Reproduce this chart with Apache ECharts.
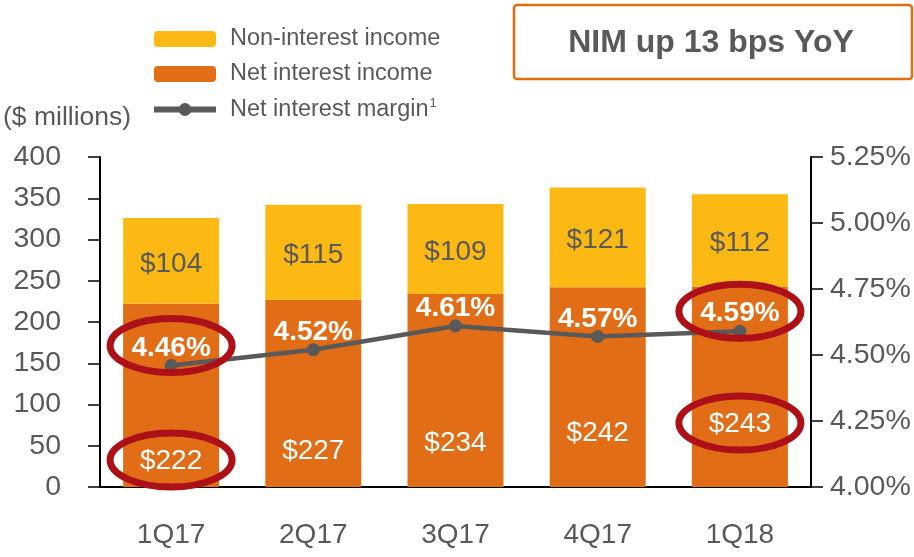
<!DOCTYPE html>
<html><head><meta charset="utf-8">
<script src="https://cdn.jsdelivr.net/npm/echarts@6/dist/echarts.min.js"></script>
<style>html,body{margin:0;padding:0;background:#fff}#c{width:914px;height:557px}</style>
</head><body><div id="c"></div>
<script>
// ---- data ----
const categories = ['1Q17', '2Q17', '3Q17', '4Q17', '1Q18'];
const netInterestIncome = [222, 227, 234, 242, 243];
const nonInterestIncome = [104, 115, 109, 121, 112];
const totalRevenue = [326, 342, 343, 363, 355];
const netInterestMargin = [4.46, 4.52, 4.61, 4.57, 4.59];
const leftAxisTicks = [0, 50, 100, 150, 200, 250, 300, 350, 400];
const rightAxisTicks = [4.00, 4.25, 4.50, 4.75, 5.00, 5.25];
const highlightedIdx = [0, 4];
const titleText = 'NIM up 13 bps YoY';
const unitText = '($ millions)';

// ---- styles ----
const niiLabelLift = [12, 22, 30, 40, 49];
const FONT = "'Liberation Sans', Arial, Helvetica, sans-serif";
const GRAY = '#595959';
const YELLOW = '#FDB913';
const ORANGE = '#E16D16';
const RED = '#AD1016';

const chart = echarts.init(document.getElementById('c'), null, { renderer: 'canvas' });

const option = {
  animation: false,
  textStyle: { fontFamily: FONT },
  grid: { left: 100, right: 103, top: 157, bottom: 70 },
  legend: {
    orient: 'vertical', left: 146, top: 22, itemWidth: 62, itemHeight: 16, itemGap: 11,
    selectedMode: false,
    data: [
      { name: 'Non-interest income' },
      { name: 'Net interest income' },
      { name: 'Net interest margin', lineStyle: { width: 6, color: GRAY }, itemStyle: { color: GRAY } }
    ],
    formatter: n => n === 'Net interest margin' ? n + '{sup|1}' : n,
    textStyle: {
      fontSize: 23.5, color: GRAY, fontFamily: FONT, padding: [0, 0, 0, 9],
      rich: { sup: { fontSize: 13, color: GRAY, fontFamily: FONT, verticalAlign: 'top', padding: [0, 0, 12, 1] } }
    }
  },
  xAxis: {
    type: 'category', data: categories,
    axisLine: { lineStyle: { color: '#000', width: 2 } },
    axisTick: { alignWithLabel: true, length: 12, lineStyle: { color: '#000', width: 1.5 } },
    axisLabel: { fontSize: 28, color: GRAY, margin: 34, fontFamily: FONT }
  },
  yAxis: [
    {
      type: 'value', position: 'left',
      min: leftAxisTicks[0], max: leftAxisTicks[leftAxisTicks.length - 1], interval: leftAxisTicks[1] - leftAxisTicks[0],
      axisLine: { show: true, lineStyle: { color: '#000', width: 2 } },
      axisTick: { show: true, length: 12, lineStyle: { color: '#000', width: 1.5 } },
      axisLabel: { fontSize: 28.5, color: GRAY, margin: 39, fontFamily: FONT },
      splitLine: { show: false }
    },
    {
      type: 'value', position: 'right',
      min: rightAxisTicks[0], max: rightAxisTicks[rightAxisTicks.length - 1], interval: 0.25,
      axisLine: { show: true, lineStyle: { color: '#000', width: 2 } },
      axisTick: { show: true, length: 12, lineStyle: { color: '#000', width: 1.5 } },
      axisLabel: { fontSize: 28.5, color: GRAY, margin: 19, fontFamily: FONT, formatter: v => v.toFixed(2) + '%' },
      splitLine: { show: false }
    }
  ],
  series: [
    {
      name: 'Net interest income', type: 'bar', stack: 'rev', barWidth: 96,
      itemStyle: { color: ORANGE },
      data: netInterestIncome.map((v, i) => ({ value: v, label: { distance: niiLabelLift[i] } })),
      label: { show: true, position: 'insideBottom', color: '#fff', fontSize: 28, fontFamily: FONT, formatter: p => '$' + p.value }
    },
    {
      name: 'Non-interest income', type: 'bar', stack: 'rev', barWidth: 96,
      itemStyle: { color: YELLOW },
      data: nonInterestIncome,
      label: { show: true, position: 'inside', offset: [0, 3], color: GRAY, fontSize: 28, fontFamily: FONT, formatter: p => '$' + p.value }
    },
    {
      name: 'Total', type: 'line', data: totalRevenue, yAxisIndex: 0,
      symbol: 'none', lineStyle: { opacity: 0 }, silent: true, z: 5,
      label: { show: true, position: 'top', distance: 4, color: GRAY, fontSize: 28, fontWeight: 'bold', fontFamily: FONT, formatter: p => '$' + p.value }
    },
    {
      name: 'Net interest margin', type: 'line', data: netInterestMargin, yAxisIndex: 1,
      symbol: 'circle', symbolSize: 13, z: 6,
      lineStyle: { color: GRAY, width: 4.5 }, itemStyle: { color: GRAY },
      label: { show: true, position: 'top', distance: 0, offset: [0, 3], color: '#fff', fontSize: 28, fontWeight: 'bold', fontFamily: FONT, formatter: p => p.value.toFixed(2) + '%' }
    }
  ]
};
chart.setOption(option);

const graphics = [
  { type: 'rect', shape: { x: 514, y: 5, width: 398, height: 74, r: 3 }, style: { fill: '#fff', stroke: '#E46C0A', lineWidth: 2.5 } },
  { type: 'text', x: 711, y: 43, style: { text: titleText, fill: GRAY, font: 'bold 32px ' + FONT, textAlign: 'center', textVerticalAlign: 'middle' } },
  { type: 'text', x: 3, y: 118, style: { text: unitText, fill: GRAY, font: '26.5px ' + FONT, textAlign: 'left', textVerticalAlign: 'middle' } }
];
highlightedIdx.forEach(i => {
  const p = chart.convertToPixel({ xAxisIndex: 0, yAxisIndex: 1 }, [i, netInterestMargin[i]]);
  const b = chart.convertToPixel({ xAxisIndex: 0, yAxisIndex: 0 }, [i, 0]);
  graphics.push({ type: 'ellipse', z: 100, shape: { cx: p[0], cy: p[1] - 20, rx: 61, ry: 27 }, style: { fill: 'none', stroke: RED, lineWidth: 7 } });
  graphics.push({ type: 'ellipse', z: 100, shape: { cx: b[0], cy: b[1] - niiLabelLift[i] - 15, rx: 61, ry: 27 }, style: { fill: 'none', stroke: RED, lineWidth: 7 } });
});
chart.setOption({ graphic: graphics });
</script>
</body></html>
